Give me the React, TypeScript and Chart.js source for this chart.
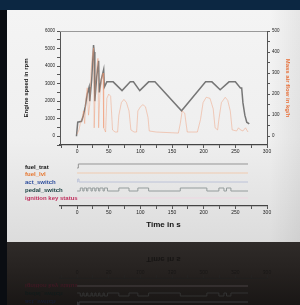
import React, { useEffect, useRef } from 'react';
import { Chart, registerables } from 'chart.js';
Chart.register(...registerables);

// ---- data ----
const timeTickStep = 50;
const rpmT = [-1, 1, 7, 10, 13, 16, 19, 20, 23, 26, 27, 28, 31, 34, 35, 38, 42, 43, 47, 57, 71, 84, 89, 99, 113, 123, 165, 203, 213, 226, 240, 250, 258, 260, 262, 265, 268, 272];
const rpmV = [0, 800, 850, 1200, 1700, 2400, 2800, 2000, 3200, 5200, 4800, 2000, 3400, 4300, 2500, 3200, 3800, 2800, 3100, 3100, 2600, 3100, 3100, 2600, 3100, 3100, 1450, 3100, 3100, 2650, 3100, 3100, 2750, 2750, 1900, 1200, 800, 700];
const mafT = [0, 3, 5, 8, 10, 12, 14, 16, 18, 20, 22, 24, 26, 27, 29, 31, 33, 34, 36, 39, 41, 42, 45, 47, 50, 53, 56, 60, 64, 66, 70, 74, 78, 82, 85, 90, 94, 96, 100, 104, 108, 112, 114, 125, 160, 163, 166, 170, 174, 190, 195, 199, 204, 210, 215, 218, 222, 224, 228, 234, 238, 242, 245, 252, 255, 258, 262, 266, 270];
const mafV = [10, 30, 60, 80, 120, 60, 180, 230, 100, 150, 300, 380, 420, 40, 250, 330, 370, 40, 200, 280, 300, 40, 20, 180, 200, 190, 30, 20, 20, 100, 160, 175, 160, 120, 30, 20, 20, 120, 140, 150, 140, 90, 25, 20, 15, 60, 120, 110, 20, 20, 80, 160, 185, 180, 130, 40, 30, 80, 160, 185, 170, 120, 30, 25, 40, 30, 25, 40, 20];

const signalNames = ['fuel_trat', 'fuel_lvl', 'act_switch', 'pedal_switch', 'ignition key status'];
const fuelTratT = [0, 2, 270];
const fuelTratV = [0, 1, 1];
const fuelLvlT = [0, 270];
const fuelLvlV = [0, 0];
const actSwitchT = [0, 1, 3, 270];
const actSwitchV = [0, 1, 0, 0];
const pedalT = [0, 5, 9, 11, 15, 17, 22, 24, 28, 30, 34, 36, 41, 43, 48, 66, 82, 96, 113, 163, 205, 224, 232, 236, 243, 270];
const pedalV = [0, 1, 0, 1, 0, 1, 0, 1, 0, 1, 0, 1, 0, 1, 0, 1, 0, 1, 0, 1, 0, 1, 0, 1, 0, 0];
const ignT = [0, 270];
const ignV = [0, 0];

// ---- style / layout ----
const FONT = 'Liberation Sans, Arial, sans-serif';
const X_MIN = -27;
const X_MAX = 300;
const pts = (t: number[], v: number[], base = 0, amp = 1) => t.map((x, i) => ({ x, y: base + amp * v[i] }));

function xAxis(height: number, title?: string) {
  return {
    type: 'linear' as const,
    min: X_MIN,
    max: X_MAX,
    afterFit: (s: any) => { s.height = height; },
    ticks: {
      stepSize: 25,
      includeBounds: false,
      autoSkip: false,
      maxRotation: 0,
      padding: 1,
      color: '#222',
      font: { family: FONT, size: 5 },
      callback: (v: any) => (v >= 0 && v % timeTickStep === 0 ? String(v) : ''),
    },
    grid: { drawOnChartArea: false, tickLength: 3, color: '#555' },
    border: { color: '#444', width: 1.2 },
    title: title
      ? { display: true, text: title, color: '#111', font: { family: FONT, size: 8, weight: 'bold' as const }, padding: { top: 0, bottom: 2 } }
      : { display: false },
  };
}

function UpperChart() {
  const ref = useRef<HTMLCanvasElement>(null);
  useEffect(() => {
    const chart = new Chart(ref.current!, {
      type: 'line',
      data: {
        datasets: [
          { label: 'Mass air flow', data: pts(mafT, mafV), yAxisID: 'y2', borderColor: 'rgba(240,150,110,0.55)', borderWidth: 0.8, pointRadius: 0, tension: 0 },
          { label: 'Engine speed', data: pts(rpmT, rpmV), yAxisID: 'y', borderColor: '#767676', borderWidth: 1.5, pointRadius: 0, tension: 0 },
        ],
      },
      options: {
        animation: false,
        responsive: false,
        maintainAspectRatio: false,
        layout: { padding: { top: 7, left: 0, right: 0, bottom: 0 } },
        plugins: { legend: { display: false }, tooltip: { enabled: false } },
        scales: {
          x: xAxis(15),
          y: {
            type: 'linear',
            position: 'left',
            min: -500,
            max: 6000,
            afterFit: (s: any) => { s.width = 50; },
            ticks: {
              stepSize: 500,
              includeBounds: false,
              autoSkip: false,
              padding: 2,
              color: '#222',
              font: { family: FONT, size: 4.5 },
              callback: (v: any) => (v >= 0 && v % 1000 === 0 ? String(v) : ''),
            },
            grid: { drawOnChartArea: false, tickLength: 3, color: '#555' },
            border: { color: '#555', width: 1 },
            title: { display: true, text: 'Engine speed in rpm', color: '#1a1a1a', font: { family: FONT, size: 6, weight: 'bold' }, padding: { top: 13, bottom: 0 } },
          },
          y2: {
            type: 'linear',
            position: 'right',
            min: -500 / 12,
            max: 500,
            afterFit: (s: any) => { s.width = 33; },
            ticks: {
              stepSize: 50,
              includeBounds: false,
              autoSkip: false,
              padding: 2,
              color: '#222',
              font: { family: FONT, size: 4.5 },
              callback: (v: any) => (v >= 0 && v % 100 === 0 ? String(v) : ''),
            },
            grid: { drawOnChartArea: false, tickLength: 3, color: '#555' },
            border: { color: '#555', width: 1 },
            title: { display: true, text: 'Mass air flow in kg/h', color: '#e8703a', font: { family: FONT, size: 6, weight: 'bold' }, padding: { top: 9, bottom: 0 } },
          },
        },
      },
      plugins: [
        {
          id: 'topFrame',
          afterDraw(c: any) {
            const { ctx, chartArea: a } = c;
            ctx.save();
            ctx.strokeStyle = '#999';
            ctx.lineWidth = 1;
            ctx.beginPath();
            ctx.moveTo(a.left, a.top + 0.5);
            ctx.lineTo(a.right, a.top + 0.5);
            ctx.stroke();
            ctx.restore();
          },
        },
      ],
    } as any);
    return () => chart.destroy();
  }, []);
  return (
    <canvas
      ref={ref}
      width={290}
      height={136}
      style={{ position: 'absolute', left: 10, top: 24, width: 290, height: 136 }}
    />
  );
}

const labelColors = ['#111', '#e6762e', '#2f4f9e', '#153d3d', '#c0305e'];
const labelCenters = [10.5, 18.3, 26.3, 33.5, 41.7];

function LowerPanel({ mirror }: { mirror: boolean }) {
  const ref = useRef<HTMLCanvasElement>(null);
  useEffect(() => {
    const row = (t: number[], v: number[], base: number, amp: number, color: string) => ({
      data: pts(t, v, base, amp),
      borderColor: color,
      borderWidth: 1,
      pointRadius: 0,
      stepped: true,
      tension: 0,
    });
    const chart = new Chart(ref.current!, {
      type: 'line',
      data: {
        datasets: [
          { label: signalNames[0], ...row(fuelTratT, fuelTratV, 4.75, 0.5, '#959595') },
          { label: signalNames[1], ...row(fuelLvlT, fuelLvlV, 4.125, 0.4, '#f0cbb0') },
          { label: signalNames[2], ...row(actSwitchT, actSwitchV, 3.0, 0.375, '#bcc2d8') },
          { label: signalNames[3], ...row(pedalT, pedalV, 1.875, 0.375, '#949c9c') },
          { label: signalNames[4], ...row(ignT, ignV, 1.0, 0.375, '#efd7e2') },
        ],
      },
      options: {
        animation: false,
        responsive: false,
        maintainAspectRatio: false,
        layout: { padding: { top: 2, left: 50, right: 33, bottom: 0 } },
        plugins: { legend: { display: false }, tooltip: { enabled: false } },
        scales: {
          x: xAxis(26, 'Time in s'),
          y: { type: 'linear', min: 0, max: 6, display: false },
        },
      },
    } as any);
    return () => chart.destroy();
  }, []);
  return (
    <div
      style={{
        position: 'absolute',
        left: 0,
        top: mirror ? 252 : 156,
        width: 300,
        height: 76,
        transform: mirror ? 'scaleY(-1)' : 'none',
        opacity: mirror ? 0.55 : 1,
        filter: mirror ? 'brightness(0.45) blur(0.4px)' : 'none',
      }}
    >
      <canvas ref={ref} width={290} height={76} style={{ position: 'absolute', left: 10, top: 0, width: 290, height: 76 }} />
      {signalNames.map((n, i) => (
        <div
          key={n}
          style={{
            position: 'absolute',
            left: 25,
            top: labelCenters[i] - 4,
            height: 8,
            lineHeight: '8px',
            fontFamily: FONT,
            fontSize: 6,
            fontWeight: 'bold',
            color: labelColors[i],
            whiteSpace: 'nowrap',
          }}
        >
          {n}
        </div>
      ))}
    </div>
  );
}

export default function App() {
  return (
    <div style={{ position: 'fixed', left: 0, top: 0, width: 300, height: 305, overflow: 'hidden', background: '#1d1a19' }}>
      {/* top navy band */}
      <div style={{ position: 'absolute', left: 0, top: 0, width: 300, height: 10, background: '#0c2742' }} />
      {/* left dark strip */}
      <div style={{ position: 'absolute', left: 0, top: 10, width: 7, height: 295, background: '#0a0d12' }} />
      {/* light panel */}
      <div
        style={{
          position: 'absolute',
          left: 7,
          top: 10,
          width: 293,
          height: 232,
          background: 'linear-gradient(180deg, #f4f4f4 0%, #efefef 55%, #dcdcdc 100%)',
        }}
      />
      <div
        style={{
          position: 'absolute',
          left: 270,
          top: 10,
          width: 30,
          height: 232,
          background: 'linear-gradient(90deg, rgba(0,0,0,0) 0%, rgba(0,0,0,0.06) 100%)',
        }}
      />
      {/* floor below panel */}
      <div
        style={{
          position: 'absolute',
          left: 7,
          top: 242,
          width: 293,
          height: 63,
          background: 'linear-gradient(180deg, #2f2b29 0%, #25211f 50%, #191615 100%)',
        }}
      />
      <UpperChart />
      <LowerPanel mirror={false} />
      <LowerPanel mirror={true} />
    </div>
  );
}
